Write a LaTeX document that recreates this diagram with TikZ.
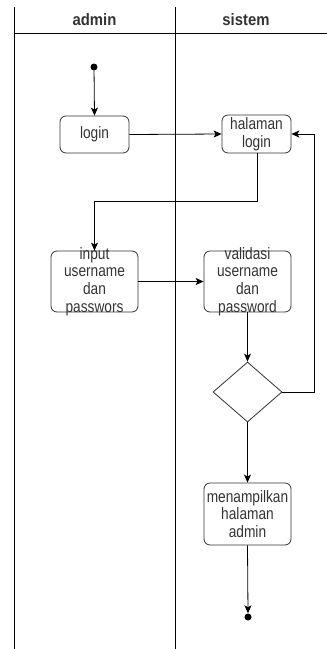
\documentclass[tikz,border=0pt]{standalone}
\usepackage{fontspec}
\setmainfont{Liberation Sans}
\newfontfamily\lblfont[FakeStretch=0.83]{Liberation Sans}
\newfontfamily\hdrfont[FakeStretch=0.9]{Liberation Sans}
\usetikzlibrary{arrows.meta,shapes.geometric}
\definecolor{txt}{HTML}{333333}
\definecolor{edge}{HTML}{333333}
\tikzset{
  lane/.style={draw=black, line width=0.9pt},
  actbox/.style={draw=edge, line width=0.8pt, rounded corners=6pt, inner sep=0pt},
  lbl/.style={text=txt, font=\lblfont\fontsize{16.5}{17.7}\selectfont, align=center, inner sep=0pt},
  hdr/.style={text=txt, font=\hdrfont\fontsize{16.5}{18}\selectfont\bfseries, inner sep=0pt},
  flow/.style={draw=black, line width=0.8pt, -{Stealth[length=8pt,width=7pt,inset=2pt]}},
  dot/.style={circle, fill=black, inner sep=0pt, minimum size=7pt},
  dec/.style={diamond, draw=edge, line width=0.8pt, inner sep=0pt, minimum width=69pt, minimum height=60pt}
}
\begin{document}
\begin{tikzpicture}[x=1pt,y=-1pt]
\useasboundingbox (0,0) rectangle (327,649);
% swimlanes
\draw[lane] (14,7) -- (14,649);
\draw[lane] (175,7) -- (175,649);
\draw[lane] (14,33) -- (327,33);
\node[hdr] (hadmin) at (94.5,20) {admin};
\node[hdr] (hsistem) at (246,20) {sistem};
% nodes
\node[dot] (start) at (94,67) {};
\node[actbox, minimum width=69pt, minimum height=37pt] (login) at (94.5,134.5) {};
\node[lbl] (tlogin) at (login) {login};
\node[actbox, minimum width=69pt, minimum height=38pt] (hl) at (256.5,134) {};
\node[lbl] (thl) at (hl) {halaman\\login};
\node[actbox, minimum width=87pt, minimum height=61pt] (inp) at (94.5,281.5) {};
\node[lbl] (tinp) at (inp) {input\\username\\dan\\passwors};
\node[actbox, minimum width=87pt, minimum height=61pt] (val) at (247.5,281.5) {};
\node[lbl] (tval) at (val) {validasi\\username\\dan\\password};
\node[dec] (d) at (247.5,392) {};
\node[actbox, minimum width=87pt, minimum height=62pt] (show) at (247.5,514) {};
\node[lbl] (tshow) at (show) {menampilkan\\halaman\\admin};
\node[dot] (end) at (248,617) {};
% connectors
\draw[flow] (start) -- (login.north);
\draw[flow] (login.east) -- (hl.west);
\draw[flow] (hl.south -| 257,0) -- (257,201) -| (inp.north);
\draw[flow] (inp.east) -- (val.west);
\draw[flow] (val.south) -- (d.north);
\draw[flow] (d.east) -- (314,392) |- (hl.east);
\draw[flow] (d.south) -- (show.north);
\draw[flow] (show.south) -- (end.north);
\end{tikzpicture}
\end{document}
